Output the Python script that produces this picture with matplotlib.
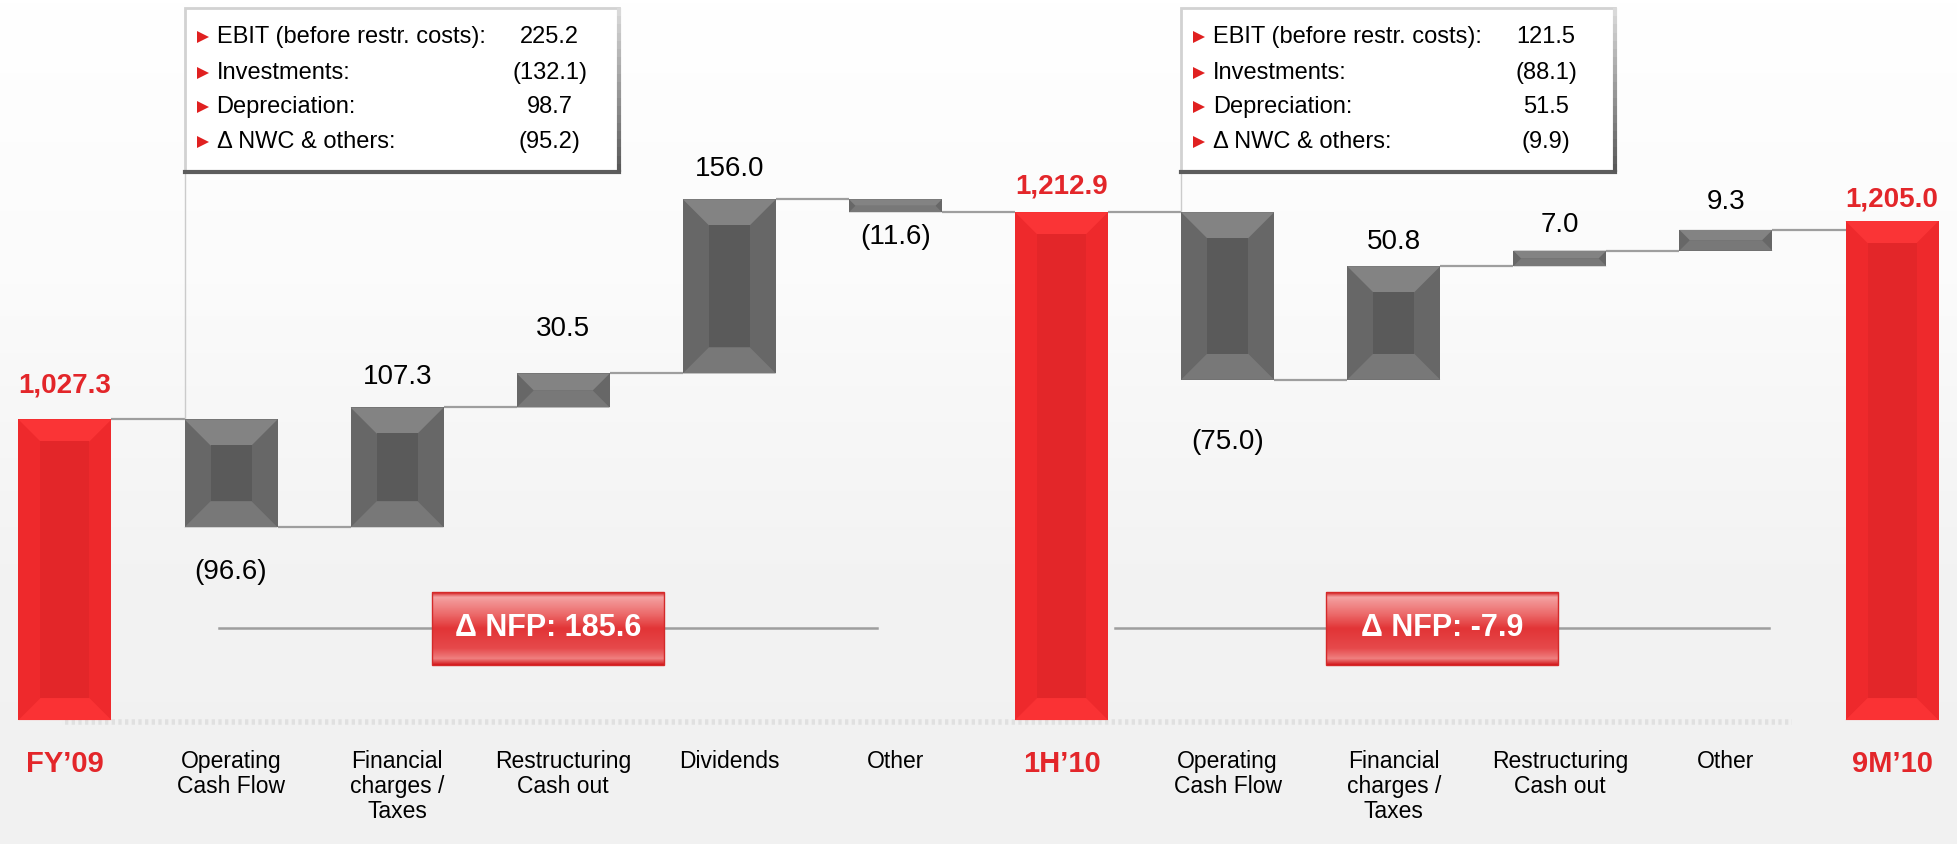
import numpy as np
import matplotlib
matplotlib.use("Agg")
import matplotlib.pyplot as plt
from matplotlib.patches import Polygon, Rectangle
from matplotlib.colors import LinearSegmentedColormap
from matplotlib.collections import LineCollection

plt.rcParams['font.family'] = ['Liberation Sans', 'DejaVu Sans']

# ---- data ----
categories = ["FY’09", "Operating\nCash Flow", "Financial\ncharges /\nTaxes", "Restructuring\nCash out",
              "Dividends", "Other", "1H’10", "Operating\nCash Flow", "Financial\ncharges /\nTaxes",
              "Restructuring\nCash out", "Other", "9M’10"]
values = [1027.3, -96.6, 107.3, 30.5, 156.0, -11.6, 1212.9, -75.0, 50.8, 7.0, 9.3, 1205.0]
is_total = [True, False, False, False, False, False, True, False, False, False, False, True]

box_labels = ["EBIT (before restr. costs):", "Investments:", "Depreciation:", "Δ NWC & others:"]
box1_values = [225.2, -132.1, 98.7, -95.2]
box2_values = [121.5, -88.1, 51.5, -9.9]
nfp_values = [185.6, -7.9]

# ---- layout ----
W, H = 1957, 844
xmin, xmax = -0.391, 11.391
ymin, ymax = 647, 1403
axis_floor = 758
bar_w = 0.56
ppx = W / (xmax - xmin)
ppy = H / (ymax - ymin)
# the second period's movements are drawn on a stretched scale, as in the slide
section = [0, 0, 0, 0, 0, 0, 0, 1, 1, 1, 1, 0]
stretch = 2.0
label_gap_px = [34, 45, 30, 44, 30, 25, 26, 62, 24, 26, 28, 22]
nfp_spans = [(0.93, 4.89), (6.32, 10.26)]
box_anchor = [1, 7]

RED = '#e3262a'

fig = plt.figure(figsize=(W / 100, H / 100), dpi=100)
ax = fig.add_axes([0, 0, 1, 1])
ax2 = fig.add_axes([0, 0, 1, 1])
ax2.patch.set_alpha(0)

# stretched axis: 1H'10 level sits on the same pixel row in both axes
ppy2 = ppy * stretch
pin = values[6]
ymin2 = pin - (pin - ymin) * ppy / ppy2
ymax2 = ymin2 + H / ppy2
axes_for = [ax, ax2]
ppy_for = [ppy, ppy2]

bg = LinearSegmentedColormap.from_list('bg', ['#ffffff', '#fbfbfb', '#f3f3f3', '#f1f1f1'])
ax.imshow(np.linspace(0, 1, 256).reshape(-1, 1), extent=[xmin, xmax, ymin, ymax],
          cmap=bg, aspect='auto', zorder=0)


def px_y(p):
    # pixels from top -> data y on the main axis
    return ymax - p / ppy


def bevel_bar(a, py, xc, y0, y1, cols, bevel=26):
    side, top, bottom, center = cols
    x0, x1 = xc - bar_w / 2, xc + bar_w / 2
    a.bar(xc, y1 - y0, bottom=y0, width=bar_w, color=side, linewidth=0, zorder=3)
    b = min(bevel, (y1 - y0) * py / 2, bar_w * ppx / 2)
    bx, by = b / ppx, b / py
    a.add_patch(Polygon([(x0, y1), (x1, y1), (x1 - bx, y1 - by), (x0 + bx, y1 - by)],
                        closed=True, color=top, lw=0, zorder=4))
    a.add_patch(Polygon([(x0, y0), (x1, y0), (x1 - bx, y0 + by), (x0 + bx, y0 + by)],
                        closed=True, color=bottom, lw=0, zorder=4))
    if y1 - y0 > 2 * by:
        a.add_patch(Rectangle((x0 + bx, y0 + by), bar_w - 2 * bx, (y1 - y0) - 2 * by,
                              color=center, lw=0, zorder=4))


x = np.arange(len(values))
level = 0.0
ends = []
spans = []
for i, v in enumerate(values):
    if is_total[i]:
        y0, y1 = axis_floor, v
        level = v
    else:
        y0, y1 = min(level, level + v), max(level, level + v)
        level += v
    ends.append(level)
    spans.append((y0, y1))

# baseline strip
ax.plot([x[0], x[-1] - 0.6], [axis_floor - 2, axis_floor - 2], color='#dadada', lw=4,
        ls=(0, (0.6, 0.6)), alpha=0.7, zorder=1)

# connectors
for i in range(len(values) - 1):
    a = axes_for[section[i]]
    a.plot([x[i] + bar_w / 2, x[i + 1] - bar_w / 2], [ends[i], ends[i]],
           color='#9e9e9e', lw=1.6, zorder=2, solid_capstyle='butt')

cat_y = axis_floor - 30 / ppy
for i, v in enumerate(values):
    y0, y1 = spans[i]
    a, py = axes_for[section[i]], ppy_for[section[i]]
    if is_total[i]:
        bevel_bar(a, py, x[i], y0, y1, ('#ee292c', '#fa3436', '#fa3234', '#e32629'), bevel=22)
        a.text(x[i], y1 + label_gap_px[i] / py, f"{v:,.1f}", ha='center', va='center',
               fontsize=20, fontweight='bold', color=RED, zorder=6)
        ax.text(x[i], cat_y, categories[i], ha='center', va='top',
                fontsize=21, fontweight='bold', color=RED, zorder=6)
    else:
        bevel_bar(a, py, x[i], y0, y1, ('#676767', '#838383', '#787878', '#5a5a5a'))
        if v >= 0:
            a.text(x[i], y1 + label_gap_px[i] / py, f"{v:.1f}", ha='center', va='center',
                   fontsize=20, color='black', zorder=6)
        else:
            a.text(x[i], y0 - label_gap_px[i] / py, f"({abs(v):.1f})", ha='center', va='center',
                   fontsize=20, color='black', zorder=6)
        ax.text(x[i], cat_y, categories[i], ha='center', va='top',
                fontsize=16.5, color='black', linespacing=1.1, zorder=6)


def fmt(v):
    return f"({abs(v):.1f})" if v < 0 else f"{v:.1f}"


# info boxes above the operating cash flow bars
for k, vals in zip(box_anchor, [box1_values, box2_values]):
    bl = x[k] - bar_w / 2
    bw = 434 / ppx
    bt, bb = px_y(8), px_y(172)
    ax.add_patch(Rectangle((bl, bb), bw, bt - bb, facecolor='white', edgecolor='#d2d2d2',
                           lw=2, zorder=5))
    ax.plot([bl, bl + bw], [bb, bb], color='#5c5c5c', lw=3, zorder=6, solid_capstyle='projecting')
    ys = np.linspace(bt, bb, 21)
    segs = [[(bl + bw, ys[j]), (bl + bw, ys[j + 1])] for j in range(20)]
    ax.add_collection(LineCollection(segs, colors=[str(0.85 - 0.5 * j / 19) for j in range(20)],
                                     lw=3, zorder=6))
    # drop line to the bar top
    ax.plot([bl, bl], [bb, spans[k][1]], color='#cbcbcb', lw=1, zorder=2)
    for r, (lab, val) in enumerate(zip(box_labels, vals)):
        yy = px_y([37, 73, 107, 142][r])
        ax.plot(bl + 18 / ppx, yy, marker='>', ms=8, color='#e02020', mew=0, zorder=7)
        ax.text(bl + 32 / ppx, yy, lab, ha='left', va='center', fontsize=17, zorder=7)
        ax.text(bl + 365 / ppx, yy, fmt(val), ha='center', va='center', fontsize=17, zorder=7)

# delta NFP badges
nfp_cmap = LinearSegmentedColormap.from_list(
    'nfp', [(0, '#d41c1f'), (0.06, '#f4a2a2'), (0.3, '#ec6a6a'), (0.5, '#e23436'),
            (0.78, '#e64a4c'), (0.92, '#ef8080'), (1.0, '#d41c1f')])
for (a0, b0), nv in zip(nfp_spans, nfp_values):
    yl = px_y(628)
    ax.plot([a0, b0], [yl, yl], color='#9e9e9e', lw=1.8, zorder=2)
    c = (a0 + b0) / 2
    hw = 232 / ppx / 2
    top, bot = px_y(592), px_y(665)
    ax.imshow(np.linspace(0, 1, 64).reshape(-1, 1), extent=[c - hw, c + hw, bot, top],
              cmap=nfp_cmap, aspect='auto', zorder=5)
    ax.add_patch(Rectangle((c - hw, bot), 2 * hw, top - bot, fill=False, edgecolor='#d42a2a',
                           lw=1, zorder=6))
    ax.text(c, (top + bot) / 2, f"Δ NFP: {nv}", ha='center', va='center', fontsize=22,
            fontweight='bold', color='white', zorder=7)

ax.set_xlim(xmin, xmax)
ax.set_ylim(ymin, ymax)
ax2.set_xlim(xmin, xmax)
ax2.set_ylim(ymin2, ymax2)
ax.axis('off')
ax2.axis('off')
fig.savefig('out.png', dpi=100)
